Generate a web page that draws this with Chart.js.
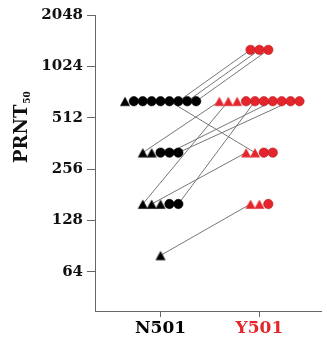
<!DOCTYPE html>
<html>
<head>
<meta charset="utf-8">
<script src="https://cdn.jsdelivr.net/npm/chart.js@4"></script>
<style>
  body { margin: 0; background: #fff; }
</style>
</head>
<body>
<canvas id="titerChart" width="327" height="337"></canvas>
<script>
const groups = ["N501", "Y501"];
const groupColors = ["#000000", "#e4262c"];
const tickValues = [64, 128, 256, 512, 1024, 2048];

// PRNT50 titers, triangles and circles are the two sample sets
const n501Triangles = [640, 320, 320, 160, 160, 160, 80];
const n501Circles = [640, 640, 640, 640, 640, 640, 640, 640, 320, 320, 320, 160, 160];
const y501Triangles = [640, 640, 640, 320, 320, 160, 160];
const y501Circles = [1280, 1280, 1280, 640, 640, 640, 640, 640, 640, 640, 320, 320, 160];

// connecting lines: [N501 titer, slot in that row, Y501 titer, slot in that row]
const links = [
  [640, 6, 1280, 0],
  [640, 7, 1280, 1],
  [640, 8, 1280, 2],
  [640, 5, 320, 1],
  [320, 0, 640, 0],
  [320, 3, 640, 6],
  [320, 4, 640, 8],
  [160, 0, 640, 1],
  [160, 4, 640, 4],
  [160, 1, 320, 0],
  [80, 0, 160, 0],
];

const step = 0.09; // horizontal spacing between markers in a row

// triangle marker whose base sits level with the bottom of the circles
function triangleImage(color) {
  const c = document.createElement("canvas");
  c.width = 12;
  c.height = 14;
  const g = c.getContext("2d");
  g.fillStyle = color;
  g.beginPath();
  g.moveTo(6, 2.6);
  g.lineTo(11, 11.7);
  g.lineTo(1, 11.7);
  g.closePath();
  g.fill();
  return c;
}

// group markers by titer: triangles first, then circles
function buildRows(triangles, circles) {
  const rows = {};
  triangles.forEach((v) => (rows[v] = rows[v] || []).push("triangle"));
  circles.forEach((v) => (rows[v] = rows[v] || []).push("circle"));
  return rows;
}

function rowPoints(rows, center) {
  const pts = {};
  Object.keys(rows).forEach((v) => {
    const n = rows[v].length;
    pts[v] = rows[v].map((shape, k) => ({
      x: center + (k - (n - 1) / 2) * step,
      y: Number(v),
      shape: shape,
    }));
  });
  return pts;
}

const n501Rows = rowPoints(buildRows(n501Triangles, n501Circles), 1);
const y501Rows = rowPoints(buildRows(y501Triangles, y501Circles), 2);

function pointDataset(rows, color, edge) {
  const pts = [].concat(...Object.values(rows));
  const tri = triangleImage(color);
  return {
    data: pts.map((p) => ({ x: p.x, y: p.y })),
    pointStyle: pts.map((p) => (p.shape === "triangle" ? tri : "circle")),
    pointRadius: 4.7,
    backgroundColor: color,
    borderColor: edge,
    borderWidth: 0.6,
    order: 0,
  };
}

const lineDatasets = links.map((l) => {
  const a = n501Rows[l[0]][l[1]];
  const b = y501Rows[l[2]][l[3]];
  return {
    data: [
      { x: a.x, y: a.y },
      { x: b.x, y: b.y },
    ],
    showLine: true,
    borderColor: "#777777",
    borderWidth: 1,
    pointRadius: 0,
    order: 2,
  };
});

const yTitle = {
  id: "yTitle",
  afterDraw(chart) {
    const ctx = chart.ctx;
    ctx.save();
    ctx.translate(27, 163);
    ctx.rotate(-Math.PI / 2);
    ctx.fillStyle = "#111";
    ctx.textBaseline = "alphabetic";
    ctx.textAlign = "left";
    ctx.font = "bold 18px 'DejaVu Serif'";
    ctx.fillText("PRNT", 0, 0);
    const w = ctx.measureText("PRNT").width;
    ctx.font = "bold 9px 'DejaVu Serif'";
    ctx.fillText("50", w + 1, 3);
    ctx.restore();
  },
};

new Chart(document.getElementById("titerChart"), {
  type: "scatter",
  data: {
    datasets: [
      ...lineDatasets,
      pointDataset(n501Rows, groupColors[0], "#000000"),
      pointDataset(y501Rows, groupColors[1], "#b81c20"),
    ],
  },
  options: {
    responsive: false,
    animation: false,
    devicePixelRatio: 1,
    layout: { padding: { top: 15, right: 0, left: 0, bottom: 0 } },
    plugins: {
      legend: { display: false },
      tooltip: { enabled: false },
    },
    scales: {
      x: {
        type: "linear",
        min: 0.337,
        max: 2.63,
        afterBuildTicks: (s) => {
          s.ticks = [{ value: 1 }, { value: 2 }];
        },
        afterFit: (s) => {
          s.height = 26;
        },
        ticks: {
          callback: (v) => groups[v - 1],
          color: (c) => groupColors[c.index],
          font: { family: "DejaVu Serif", weight: "bold", size: 17 },
          padding: 1,
          maxRotation: 0,
        },
        grid: { drawOnChartArea: false, tickLength: 6, color: "#666" },
        border: { color: "#666", width: 1 },
      },
      y: {
        type: "logarithmic",
        min: 37.8,
        max: 2048,
        afterBuildTicks: (s) => {
          s.ticks = tickValues.map((v) => ({ value: v }));
        },
        afterFit: (s) => {
          s.width = 95;
        },
        ticks: {
          callback: (v) => String(v),
          color: "#111",
          font: { family: "DejaVu Serif", weight: "bold", size: 15 },
          padding: 4,
        },
        grid: { drawOnChartArea: false, tickLength: 8, color: "#666" },
        border: { color: "#666", width: 1 },
      },
    },
  },
  plugins: [yTitle],
});
</script>
</body>
</html>
